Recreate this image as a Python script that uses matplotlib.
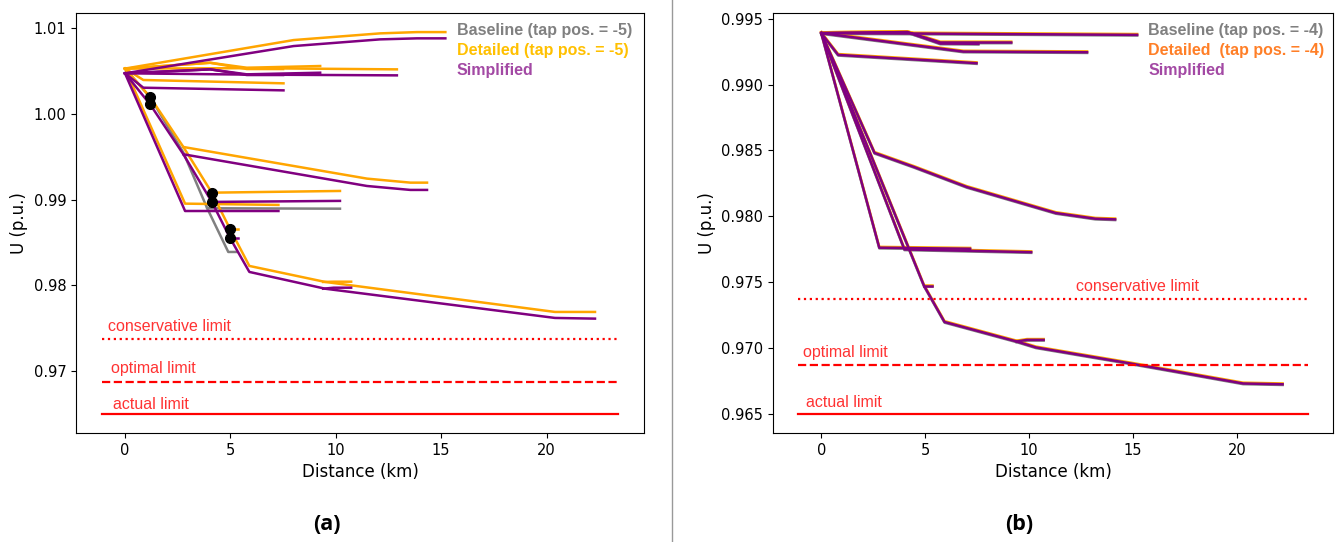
import matplotlib
matplotlib.use("Agg")
import matplotlib.pyplot as plt
from matplotlib.lines import Line2D
from matplotlib import transforms

# ---- limits (p.u.) ----
limit_names = ["conservative limit", "optimal limit", "actual limit"]
limit_values = [0.9737, 0.9687, 0.9650]
limit_styles = [":", "--", "-"]
limit_x = [-1.1, 23.4]

# ---- panel (a): tap pos. = -5 ----
a_top_km = [0, 8.0, 12.1, 13.86, 15.2]
a_top_det = [1.0053, 1.00863, 1.00941, 1.00956, 1.00956]
a_top_sim = [1.00475, 1.00793, 1.00871, 1.00883, 1.00883]

a_mid1_km = [0, 4.04, 5.78, 9.26]
a_mid1_det = [1.0053, 1.00598, 1.0054, 1.0056]
a_mid1_sim = [1.00475, 1.00521, 1.00463, 1.00482]

a_mid2_km = [0, 4.04, 5.78, 7.5]
a_mid2_det = [1.0053, 1.00598, 1.00525, 1.00525]
a_mid2_sim = [1.00475, 1.00521, 1.00455, 1.00455]

a_mid3_km = [0, 5.8, 12.9]
a_mid3_det = [1.0053, 1.00535, 1.00521]
a_mid3_sim = [1.00475, 1.0046, 1.00451]

a_low_km = [0, 0.87, 7.52]
a_low_det = [1.0053, 1.00397, 1.00358]
a_low_sim = [1.00475, 1.00307, 1.00276]

a_trunk_km = [0, 1.19, 2.77, 4.12, 4.99, 5.9, 9.5, 20.4, 22.3]
a_trunk_det = [1.0053, 1.00198, 0.99615, 0.99082, 0.98655, 0.98227, 0.9804, 0.9769, 0.9769]
a_trunk_sim = [1.00475, 1.00113, 0.9953, 0.98974, 0.9855, 0.98157, 0.97961, 0.9762, 0.97612]

a_br4_km = [2.77, 11.48, 13.54, 14.33]
a_br4_det = [0.99615, 0.99246, 0.99199, 0.99199]
a_br4_sim = [0.9953, 0.9916, 0.99114, 0.99114]

a_br5_km = [4.12, 10.2]
a_br5_det = [0.99082, 0.99102]
a_br5_sim = [0.98974, 0.98986]

a_br6_km = [0, 2.85, 7.28]
a_br6_det = [1.0053, 0.98954, 0.98939]
a_br6_sim = [1.00475, 0.98868, 0.98868]

a_br7_km = [4.99, 5.38]
a_br7_det = [0.98655, 0.98655]
a_br7_sim = [0.9855, 0.9855]

a_br8_km = [9.4, 9.9, 10.73]
a_br8_det = [0.9804, 0.98043, 0.98043]
a_br8_sim = [0.97961, 0.97973, 0.97973]

# baseline only where it differs from the detailed model
a_base1_km = [0, 1.19, 2.77, 3.9, 10.2]
a_base1_u = [1.0053, 1.00198, 0.9955, 0.989, 0.98895]
a_base2_km = [3.9, 4.9, 5.3]
a_base2_u = [0.989, 0.9839, 0.9839]

# black markers (on detailed and simplified curves)
a_dot_km = [1.19, 1.19, 4.12, 4.12, 4.99, 4.99]
a_dot_u = [1.00198, 1.00113, 0.99082, 0.98974, 0.98655, 0.9855]

# ---- panel (b): tap pos. = -4 (all three models coincide) ----
b_trunk_km = [0, 4.94, 5.93, 9.4, 10.33, 14.89, 20.3, 22.2]
b_trunk_u = [0.99391, 0.97474, 0.97198, 0.9705, 0.97005, 0.96883, 0.96731, 0.96725]
b_stub1_km = [4.94, 5.33]
b_stub1_u = [0.97474, 0.97474]
b_stub2_km = [9.4, 9.9, 10.7]
b_stub2_u = [0.9705, 0.97062, 0.97062]
b_A_km = [0, 2.56, 4.46, 7.0, 11.29, 13.19, 14.14]
b_A_u = [0.99391, 0.98482, 0.98375, 0.98223, 0.98025, 0.97982, 0.97977]
b_B_km = [0, 2.79, 7.16]
b_B_u = [0.99391, 0.97762, 0.97754]
b_C_km = [0, 4.0, 10.1]
b_C_u = [0.99391, 0.97749, 0.97728]
b_T1_km = [0, 4.5, 15.2]
b_T1_u = [0.99391, 0.99388, 0.99378]
b_T2_km = [0, 4.14, 5.73, 9.14]
b_T2_u = [0.99391, 0.99399, 0.9932, 0.9932]
b_T3_km = [0, 4.14, 5.73, 7.56]
b_T3_u = [0.99391, 0.99399, 0.99312, 0.9931]
b_T4_km = [0, 6.84, 12.79]
b_T4_u = [0.99391, 0.99251, 0.99246]
b_T5_km = [0, 0.81, 7.47]
b_T5_u = [0.99391, 0.99226, 0.99163]

GRAY = "#808080"
ORANGE = "#FFA500"
PURPLE = "#800080"
RED = "#FF0000"
LW = 1.8


def draw_limits(ax, label_pos):
    for name, val, ls, (lx, ly) in zip(limit_names, limit_values, limit_styles, label_pos):
        ax.plot(limit_x, [val, val], color=RED, ls=ls, lw=1.6)
        ax.text(lx, ly, name, color="#FF3333", fontsize=11.5,
                family="Liberation Sans", va="center", ha="left")


def legend_text(ax, labels, colors):
    for i, (lab, col) in enumerate(zip(labels, colors)):
        ax.text(0.67, 0.959 - i * 0.048, lab, transform=ax.transAxes, color=col,
                fontsize=11.5, fontweight="bold", family="Liberation Sans",
                va="center", ha="left")


fig = plt.figure(figsize=(13.38, 5.42), dpi=100)
ax1 = fig.add_axes([76 / 1338, 109 / 542, 568 / 1338, 420 / 542])
ax2 = fig.add_axes([773 / 1338, 109 / 542, 560 / 1338, 420 / 542])

# panel (a)
a_branches = [
    (a_top_km, a_top_det, a_top_sim),
    (a_mid1_km, a_mid1_det, a_mid1_sim),
    (a_mid2_km, a_mid2_det, a_mid2_sim),
    (a_mid3_km, a_mid3_det, a_mid3_sim),
    (a_low_km, a_low_det, a_low_sim),
    (a_trunk_km, a_trunk_det, a_trunk_sim),
    (a_br4_km, a_br4_det, a_br4_sim),
    (a_br5_km, a_br5_det, a_br5_sim),
    (a_br6_km, a_br6_det, a_br6_sim),
    (a_br7_km, a_br7_det, a_br7_sim),
    (a_br8_km, a_br8_det, a_br8_sim),
]
ax1.plot(a_base1_km, a_base1_u, color=GRAY, lw=LW)
ax1.plot(a_base2_km, a_base2_u, color=GRAY, lw=LW)
for km, det, sim in a_branches:
    ax1.plot(km, det, color=ORANGE, lw=LW)
for km, det, sim in a_branches:
    ax1.plot(km, sim, color=PURPLE, lw=LW)
ax1.plot(a_dot_km, a_dot_u, "o", color="black", ms=7, ls="none")
draw_limits(ax1, [(-0.8, 0.97525), (-0.65, 0.97035), (-0.55, 0.96615)])
legend_text(ax1, ["Baseline (tap pos. = -5)", "Detailed (tap pos. = -5)", "Simplified"],
            ["#808080", "#FFC000", "#A349A4"])

# panel (b)
b_branches = [
    (b_trunk_km, b_trunk_u), (b_stub1_km, b_stub1_u), (b_stub2_km, b_stub2_u),
    (b_A_km, b_A_u), (b_B_km, b_B_u), (b_C_km, b_C_u),
    (b_T1_km, b_T1_u), (b_T2_km, b_T2_u), (b_T3_km, b_T3_u),
    (b_T4_km, b_T4_u), (b_T5_km, b_T5_u),
]
up = transforms.offset_copy(ax2.transData, fig=fig, x=0, y=0.6, units="points")
down = transforms.offset_copy(ax2.transData, fig=fig, x=0, y=-0.5, units="points")
for km, u in b_branches:
    ax2.plot(km, u, color=GRAY, lw=LW, transform=down)
for km, u in b_branches:
    ax2.plot(km, u, color=ORANGE, lw=LW, transform=up)
for km, u in b_branches:
    ax2.plot(km, u, color=PURPLE, lw=LW)
draw_limits(ax2, [(12.24, 0.97467), (-0.86, 0.96964), (-0.76, 0.96584)])
legend_text(ax2, ["Baseline (tap pos. = -4)", "Detailed  (tap pos. = -4)", "Simplified"],
            ["#808080", "#FF7F27", "#A349A4"])

for ax in (ax1, ax2):
    ax.set_xlabel("Distance (km)", fontsize=12)
    ax.set_ylabel("U (p.u.)", fontsize=12)
    ax.tick_params(labelsize=10.5)

fig.add_artist(Line2D([672 / 1338, 672 / 1338], [0, 1], color="#999999", lw=1))
fig.text(327 / 1338, 1 - 525 / 542, "(a)", fontsize=15.5, fontweight="bold",
         family="Open Sans", ha="center", va="center")
fig.text(1019 / 1338, 1 - 525 / 542, "(b)", fontsize=15.5, fontweight="bold",
         family="Open Sans", ha="center", va="center")

fig.savefig("out.png", dpi=100)
